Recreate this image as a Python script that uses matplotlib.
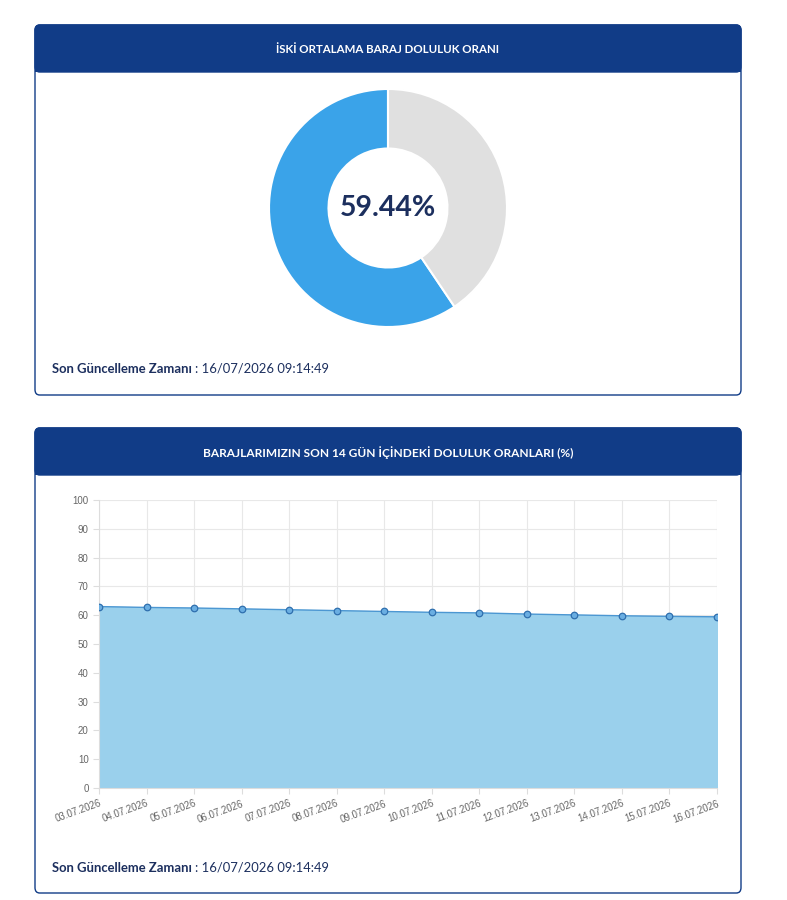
import matplotlib
matplotlib.use("Agg")
import matplotlib.pyplot as plt
from matplotlib.patches import FancyBboxPatch, Rectangle

# ------------------------------------------------------------------
# Data
# ------------------------------------------------------------------
fill_pct = 59.44
donut_values = [fill_pct, 100 - fill_pct]
donut_colors = ["#3aa3e9", "#e0e0e0"]

dates = ["03.07.2026", "04.07.2026", "05.07.2026", "06.07.2026", "07.07.2026",
         "08.07.2026", "09.07.2026", "10.07.2026", "11.07.2026", "12.07.2026",
         "13.07.2026", "14.07.2026", "15.07.2026", "16.07.2026"]
levels = [63.0, 62.7, 62.5, 62.2, 61.9, 61.6, 61.3, 61.0, 60.8, 60.4,
          60.1, 59.8, 59.6, 59.44]

title_top = "İSKİ ORTALAMA BARAJ DOLULUK ORANI"
title_bottom = "BARAJLARIMIZIN SON 14 GÜN İÇİNDEKİ DOLULUK ORANLARI (%)"
update_label = "Son Güncelleme Zamanı"
update_time = ": 16/07/2026 09:14:49"

NAVY = "#113c87"
TEXT_NAVY = "#1c2f5e"

W, H = 787, 900
plt.rcParams['font.family'] = ['Lato', 'DejaVu Sans']

fig = plt.figure(figsize=(W / 100, H / 100), dpi=100)
fig.patch.set_facecolor("white")
renderer = fig.canvas.get_renderer()


def box(x, y, w, h):
    # pixel box (top-left origin) -> figure fraction rect
    return [x / W, 1 - (y + h) / H, w / W, h / H]


def card(x, y, w, h, header_h, title, size):
    fig.add_artist(FancyBboxPatch((x / W, 1 - (y + h) / H), w / W, h / H,
                                  boxstyle="round,pad=0,rounding_size=0.006",
                                  transform=fig.transFigure, facecolor="white",
                                  edgecolor=NAVY, lw=1.0, zorder=0))
    fig.add_artist(FancyBboxPatch((x / W, 1 - (y + header_h) / H), w / W, header_h / H,
                                  boxstyle="round,pad=0,rounding_size=0.006",
                                  transform=fig.transFigure, facecolor=NAVY,
                                  edgecolor=NAVY, lw=1.0, zorder=1))
    fig.add_artist(Rectangle((x / W, 1 - (y + header_h) / H), w / W, 8 / H,
                             transform=fig.transFigure, facecolor=NAVY,
                             edgecolor="none", zorder=1))
    fig.text((x + w / 2) / W, 1 - (y + header_h / 2 + 1) / H, title,
             ha="center", va="center", color="white", fontsize=size,
             fontweight="bold", zorder=2)


def footer(y):
    t = fig.text(52 / W, 1 - y / H, update_label, ha="left", va="center",
                 color=TEXT_NAVY, fontsize=9.4, fontweight="bold")
    ext = t.get_window_extent(renderer)
    fig.text((ext.x1 + 3) / W, 1 - y / H, update_time, ha="left", va="center",
             color=TEXT_NAVY, fontsize=9.4)


# ------------------------------------------------------------------
# Card 1: donut
# ------------------------------------------------------------------
card(35, 25, 706, 370, 47, title_top, 8.3)
ax1 = fig.add_axes(box(269, 89, 238, 238))
ax1.pie(donut_values, colors=donut_colors, startangle=90, counterclock=True,
        radius=1.0, wedgeprops=dict(width=0.5, edgecolor="white", linewidth=1.5))
ax1.set_xlim(-1, 1)
ax1.set_ylim(-1, 1)
ax1.text(0, 0, f"{fill_pct:.2f}%", ha="center", va="center",
         fontsize=20.5, fontweight="bold", color=TEXT_NAVY)
footer(369)

# ------------------------------------------------------------------
# Card 2: 14-day line chart
# ------------------------------------------------------------------
card(35, 428, 706, 465, 47, title_bottom, 8.6)
ax2 = fig.add_axes(box(99, 500, 618, 288))
x = list(range(len(dates)))
ax2.fill_between(x, levels, 0, color="#9ad0ec", zorder=2)
ax2.plot(x, levels, color="#4c97d2", lw=1.0, zorder=3)
ax2.scatter(x, levels, s=22, facecolor="#6aaee2", edgecolor="#2f6fae",
            linewidth=0.9, zorder=4)
ax2.set_xlim(0, len(dates) - 1)
ax2.set_ylim(0, 100)
ax2.set_yticks(range(0, 101, 10))
ax2.set_xticks(x)
ax2.set_xticklabels(dates, rotation=20, ha="right", rotation_mode="anchor")
ax2.tick_params(axis="both", labelsize=7, labelcolor="#666666",
                color="#dddddd", length=4, width=0.8)
for lab in ax2.get_xticklabels() + ax2.get_yticklabels():
    lab.set_family(["Liberation Sans", "DejaVu Sans"])
ax2.grid(True, color="#e8e8e8", lw=0.8, zorder=1)
ax2.set_axisbelow(True)
for s in ax2.spines.values():
    s.set_visible(False)
ax2.spines["left"].set_visible(True)
ax2.spines["bottom"].set_visible(True)
ax2.spines["left"].set_color("#dddddd")
ax2.spines["bottom"].set_color("#dddddd")
footer(868)

fig.savefig("out.png", dpi=100)
